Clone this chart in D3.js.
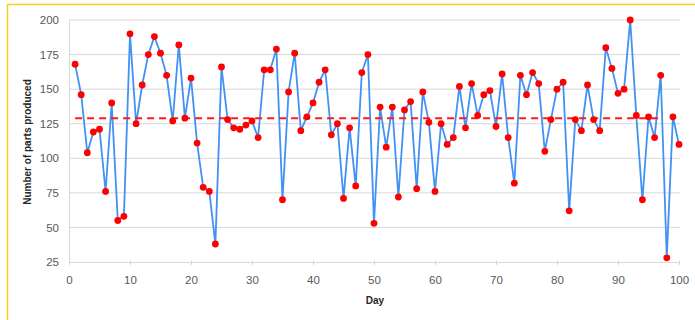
<!DOCTYPE html>
<html>
<head>
<meta charset="utf-8">
<script src="https://cdn.jsdelivr.net/npm/d3@7"></script>
<style>
  html, body { margin: 0; padding: 0; background: #ffffff; }
  svg { display: block; }
</style>
</head>
<body>
<svg id="chart" width="695" height="320"></svg>
<script>
// ---- Data ----
const days = d3.range(1, 101);
const partsProduced = [
  168,146,104,119,121,76,140,55,58,190,
  125,153,175,188,176,160,127,182,129,158,
  111,79,76,38,166,128,122,121,124,127,
  115,164,164,179,70,148,176,120,130,140,
  155,164,117,125,71,122,80,162,175,53,
  137,108,137,72,135,141,78,148,126,76,
  125,110,115,152,122,154,131,146,149,123,
  161,115,82,160,146,162,154,105,128,150,
  155,62,128,120,153,128,120,180,165,147,
  150,200,131,70,130,115,160,28,130,110
];
const averageValue = 129;
const averageDays = [1, 97];
const xTicks = [0,10,20,30,40,50,60,70,80,90,100];
const yTicks = [25,50,75,100,125,150,175,200];
const xTitle = "Day";
const yTitle = "Number of parts produced";

// ---- Layout ----
const svg = d3.select("#chart");
const plotLeft = 69, plotRight = 679, plotTop = 20, plotBottom = 262;

// Yellow frame
svg.append("rect")
  .attr("x", 7.5).attr("y", 4.5)
  .attr("width", 720).attr("height", 340)
  .attr("fill", "#ffffff")
  .attr("stroke", "#f3d02a").attr("stroke-width", 1.6);

const x = d3.scaleLinear().domain([0, 100]).range([plotLeft, plotRight]);
const y = d3.scaleLinear().domain([25, 200]).range([plotBottom, plotTop]);

// Gridlines
svg.append("g")
  .selectAll("line")
  .data(yTicks.filter(d => d !== 25))
  .join("line")
  .attr("x1", plotLeft).attr("x2", plotRight + 1)
  .attr("y1", d => y(d)).attr("y2", d => y(d))
  .attr("stroke", "#d9d9d9").attr("stroke-width", 1);

// Y axis
const yAxis = svg.append("g")
  .attr("transform", `translate(${plotLeft},0)`)
  .call(d3.axisLeft(y).tickValues(yTicks).tickSize(0).tickPadding(10));
yAxis.select(".domain").attr("stroke", "#d9d9d9");
yAxis.selectAll("text")
  .attr("fill", "#595959")
  .style("font-family", "'Liberation Sans', Arial, sans-serif")
  .style("font-size", "11.5px");

// X axis
const xAxis = svg.append("g")
  .attr("transform", `translate(0,${plotBottom})`)
  .call(d3.axisBottom(x).tickValues(xTicks).tickSize(4).tickPadding(10));
xAxis.select(".domain").attr("stroke", "#d9d9d9").attr("d", `M${plotLeft},0.5H${plotRight + 1}`);
xAxis.selectAll(".tick line").attr("stroke", "#d9d9d9").attr("y1", -2).attr("y2", 3);
xAxis.selectAll("text")
  .attr("fill", "#595959")
  .style("font-family", "'Liberation Sans', Arial, sans-serif")
  .style("font-size", "11.5px");

// Axis titles
svg.append("text")
  .attr("x", (plotLeft + plotRight) / 2 + 1).attr("y", 304)
  .attr("text-anchor", "middle")
  .attr("fill", "#262626")
  .style("font-family", "'Liberation Sans', Arial, sans-serif")
  .style("font-size", "10px").style("font-weight", "bold")
  .text(xTitle);

svg.append("text")
  .attr("transform", `translate(31,${(plotTop + plotBottom) / 2 + 1}) rotate(-90)`)
  .attr("text-anchor", "middle")
  .attr("fill", "#262626")
  .style("font-family", "'Liberation Sans', Arial, sans-serif")
  .style("font-size", "10px").style("font-weight", "bold")
  .text(yTitle);

// Data line
const pts = days.map((d, i) => [d, partsProduced[i]]);
svg.append("path")
  .datum(pts)
  .attr("fill", "none")
  .attr("stroke", "#4291f5")
  .attr("stroke-width", 1.8)
  .attr("stroke-linejoin", "round")
  .attr("d", d3.line().x(d => x(d[0])).y(d => y(d[1])));

// Average dashed line
svg.append("line")
  .attr("x1", x(averageDays[0])).attr("x2", x(averageDays[1]))
  .attr("y1", y(averageValue)).attr("y2", y(averageValue))
  .attr("stroke", "#ff1a1a").attr("stroke-width", 2)
  .attr("stroke-dasharray", "7,5");

// Markers
svg.append("g")
  .selectAll("circle")
  .data(pts)
  .join("circle")
  .attr("cx", d => x(d[0]))
  .attr("cy", d => y(d[1]))
  .attr("r", 3.4)
  .attr("fill", "#ff0000");
</script>
</body>
</html>
